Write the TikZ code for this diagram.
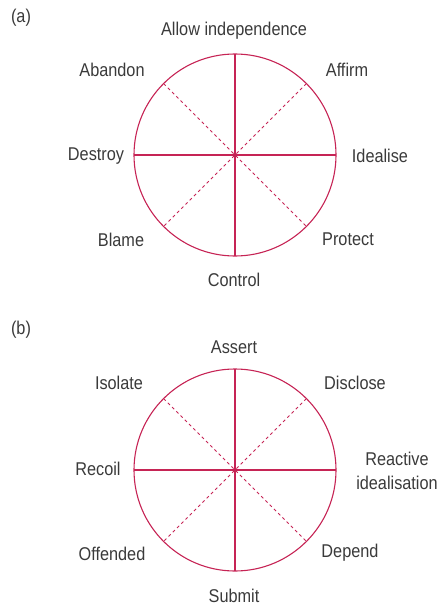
\documentclass[tikz,border=0pt]{standalone}
\usepackage{fontspec}
\setmainfont[FakeStretch=0.88]{Liberation Sans}
\usepackage{xcolor}
\definecolor{cWheel}{HTML}{C62455}
\definecolor{cText}{HTML}{3A3A3A}
\usetikzlibrary{positioning}
\tikzset{
  wheel/.style={draw=cWheel,line width=1.1pt,circle,minimum size=202pt,
    inner sep=0pt,outer sep=0pt},
  spoke/.style={draw=cWheel,line width=1.2pt},
  spoke-dash/.style={draw=cWheel,line width=0.9pt,dash pattern=on 3pt off 3pt},
  lbl/.style={text=cText,font=\fontsize{18.5}{24}\selectfont,align=center,
    inner sep=0pt},
}

\begin{document}
\begin{tikzpicture}[x=1pt,y=-1pt]
  \useasboundingbox (0,0) rectangle (443,607);

  % (a)
  \node[lbl] (tag-a) at (21,18) {(a)};
  \node[wheel] (wa) at (235,155) {};
  \draw[spoke] (wa.north) -- (wa.south);
  \draw[spoke] (wa.west) -- (wa.east);
  \draw[spoke-dash] (wa.north west) -- (wa.south east);
  \draw[spoke-dash] (wa.north east) -- (wa.south west);

  \node[lbl] (a-n) at (234,31) {Allow independence};
  \node[lbl] (a-nw) at (112,70) {Abandon};
  \node[lbl] (a-ne) at (347,70) {Affirm};
  \node[lbl] (a-w) at (96,156) {Destroy};
  \node[lbl] (a-e) at (380,156) {Idealise};
  \node[lbl] (a-sw) at (121,240) {Blame};
  \node[lbl] (a-se) at (348,239) {Protect};
  \node[lbl] (a-s) at (234,280) {Control};

  % (b)
  \node[lbl] (tag-b) at (21,330) {(b)};
  \node[wheel] (wb) at (235,470) {};
  \draw[spoke] (wb.north) -- (wb.south);
  \draw[spoke] (wb.west) -- (wb.east);
  \draw[spoke-dash] (wb.north west) -- (wb.south east);
  \draw[spoke-dash] (wb.north east) -- (wb.south west);

  \node[lbl] (b-n) at (234,347) {Assert};
  \node[lbl] (b-nw) at (119,383) {Isolate};
  \node[lbl] (b-ne) at (355,383) {Disclose};
  \node[lbl] (b-w) at (98,469) {Recoil};
  \node[lbl] (b-e) at (397,471) {Reactive\\idealisation};
  \node[lbl] (b-sw) at (112,554) {Offended};
  \node[lbl] (b-se) at (350,553) {Depend};
  \node[lbl] (b-s) at (234,596) {Submit};
\end{tikzpicture}
\end{document}
